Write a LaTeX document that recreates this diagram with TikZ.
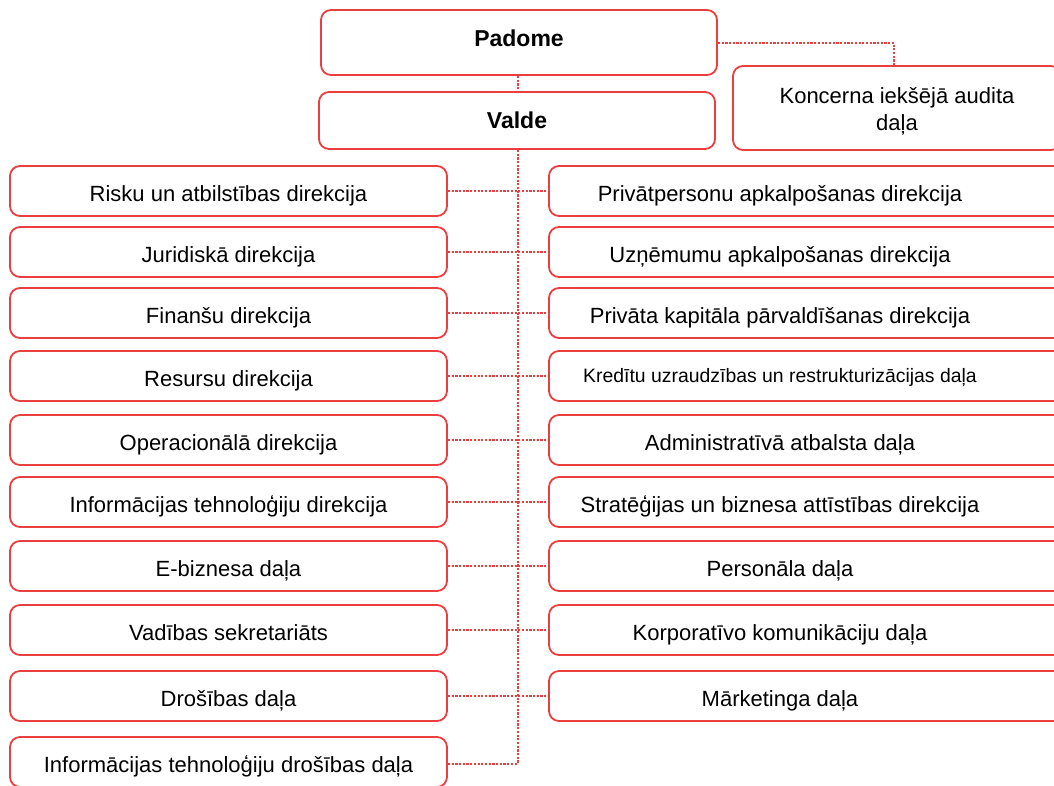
\documentclass[tikz,border=0pt]{standalone}
\usepackage{fontspec}
\setmainfont{Liberation Sans}
\definecolor{boxred}{RGB}{236,62,62}
\definecolor{dotred}{RGB}{236,62,62}
\begin{document}
\begin{tikzpicture}[x=1pt,y=-1pt,
  orgbox/.style={draw=boxred, line width=1.8pt, rounded corners=10pt, fill=white, inner sep=0pt, align=center, font=\fontsize{22}{27}\selectfont},
  leftbox/.style={orgbox, minimum width=437pt, minimum height=50pt, text height=20pt, text depth=0pt},
  rightbox/.style={orgbox, minimum width=521pt, minimum height=50pt},
  boxtext/.style={inner sep=0pt, font=\fontsize{22}{27}\selectfont, text height=20pt, text depth=0pt},
  smalltext/.style={inner sep=0pt, font=\fontsize{19.4}{24}\selectfont, text height=12pt, text depth=0pt},
  link/.style={draw=dotred, line width=2.2pt, dash pattern=on 2.2pt off 1.5pt}]
\useasboundingbox (0,0) rectangle (1054,785);
\clip (0,0) rectangle (1054,785);

% top boxes
\node[orgbox, minimum width=396pt, minimum height=65pt, font=\fontsize{23}{27}\selectfont\bfseries, text depth=9pt] (P) at (519,42.5) {Padome};
\node[orgbox, minimum width=396pt, minimum height=57pt, font=\fontsize{23}{27}\selectfont\bfseries] (V) at (517,120.5) {Valde};
\node[orgbox, minimum width=328pt, minimum height=84pt] (K) at (897,108) {\rule{0pt}{23pt}Koncerna iekšējā audita\\daļa};

% left column
\node[leftbox] (L1)  at (228.5,191) {Risku un atbilstības direkcija};
\node[leftbox] (L2)  at (228.5,252) {Juridiskā direkcija};
\node[leftbox] (L3)  at (228.5,313) {Finanšu direkcija};
\node[leftbox] (L4)  at (228.5,376) {Resursu direkcija};
\node[leftbox] (L5)  at (228.5,440) {Operacionālā direkcija};
\node[leftbox] (L6)  at (228.5,502) {Informācijas tehnoloģiju direkcija};
\node[leftbox] (L7)  at (228.5,566) {E-biznesa daļa};
\node[leftbox] (L8)  at (228.5,630) {Vadības sekretariāts};
\node[leftbox] (L9)  at (228.5,696) {Drošības daļa};
\node[leftbox] (L10) at (228.5,762) {Informācijas tehnoloģiju drošības daļa};

% right column (boxes run past the right edge)
\node[rightbox] (R1) at (809.5,191) {};
\node[rightbox] (R2) at (809.5,252) {};
\node[rightbox] (R3) at (809.5,313) {};
\node[rightbox] (R4) at (809.5,376) {};
\node[rightbox] (R5) at (809.5,440) {};
\node[rightbox] (R6) at (809.5,502) {};
\node[rightbox] (R7) at (809.5,566) {};
\node[rightbox] (R8) at (809.5,630) {};
\node[rightbox] (R9) at (809.5,696) {};
\node[boxtext]   (T1) at (780,191) {Privātpersonu apkalpošanas direkcija};
\node[boxtext]   (T2) at (780,252) {Uzņēmumu apkalpošanas direkcija};
\node[boxtext]   (T3) at (780,313) {Privāta kapitāla pārvaldīšanas direkcija};
\node[smalltext] (T4) at (780,376) {Kredītu uzraudzības un restrukturizācijas daļa};
\node[boxtext]   (T5) at (780,440) {Administratīvā atbalsta daļa};
\node[boxtext]   (T6) at (780,502) {Stratēģijas un biznesa attīstības direkcija};
\node[boxtext]   (T7) at (780,566) {Personāla daļa};
\node[boxtext]   (T8) at (780,630) {Korporatīvo komunikāciju daļa};
\node[boxtext]   (T9) at (780,696) {Mārketinga daļa};

% connectors
\coordinate (spineTop) at (518,150);
\coordinate (spineEnd) at (518,764);
\coordinate (auditCorner) at (894,43);
\draw[link] (P.south -| spineTop) -- (V.north -| spineTop);
\draw[link] (V.south -| spineTop) -- (spineEnd);
\draw[link] (P.east |- auditCorner) -- (auditCorner) -- (K.north -| auditCorner);
\foreach \i in {1,...,9}{
  \draw[link] (L\i.east) -- (R\i.west);
}
\draw[link] (L10.east |- spineEnd) -- (spineEnd);
\end{tikzpicture}
\end{document}
